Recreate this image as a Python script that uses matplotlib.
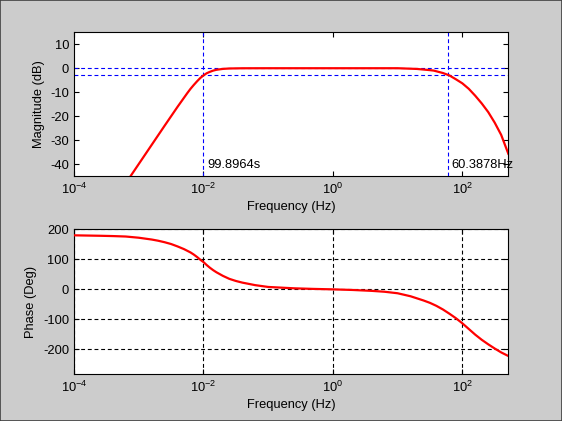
import numpy as np
import matplotlib
matplotlib.use("Agg")
import matplotlib.pyplot as plt
from matplotlib.ticker import FixedLocator, FixedFormatter, NullLocator

# values (log10 of frequency in Hz)
mag_exp = [-3.3, -3.0, -2.8, -2.6, -2.4, -2.3, -2.25, -2.2, -2.15, -2.1, -2.05,
           -2.0, -1.95, -1.9, -1.85, -1.8, -1.7, -1.6, -1.4, -1.0, 0.0, 1.0,
           1.3, 1.5, 1.56, 1.7, 1.8, 1.9, 2.0, 2.1, 2.2, 2.3, 2.4, 2.5, 2.6, 2.711]
mag_db = [-52.0, -40.0, -32.0, -24.0, -16.1, -12.3, -10.4, -8.6, -7.0, -5.5, -4.1,
          -3.0, -2.1, -1.5, -1.0, -0.65, -0.28, -0.11, -0.02, 0.0, 0.0, 0.0,
          -0.3, -0.8, -1.0, -2.0, -3.0, -4.6, -6.3, -8.6, -11.5, -14.7, -18.3,
          -22.7, -27.8, -35.7]

phase_exp = [-4.0, -3.6, -3.4, -3.2, -3.0, -2.8, -2.7, -2.6, -2.5, -2.4, -2.3,
             -2.2, -2.15, -2.1, -2.05, -2.0, -1.95, -1.9, -1.85, -1.8, -1.7,
             -1.6, -1.5, -1.4, -1.2, -1.0, -0.6, -0.3, 0.0, 0.3, 0.6, 0.8, 1.0,
             1.2, 1.4, 1.5, 1.6, 1.7, 1.8, 1.9, 2.0, 2.1, 2.2, 2.3, 2.4, 2.5,
             2.6, 2.711]
phase_deg = [180, 178.5, 177.5, 176, 172, 166, 162, 157, 151, 143, 134,
             123, 116, 108, 99, 91, 81, 72, 64, 57, 45,
             35, 28, 22.5, 14, 8, 3.5, 1.5, 0, -2, -5, -8, -13,
             -23, -37, -45, -55, -67, -81, -96, -113, -132, -151, -168, -183, -197,
             -210, -222]

low_cut = 0.01        # Hz, marked as 99.8964s
high_cut = 60.3878    # Hz
xticks = [1e-4, 1e-2, 1e0, 1e2]
xtick_labels = ["$10^{-4}$", "$10^{-2}$", "$10^{0}$", "$10^{2}$"]

plt.rcParams["font.family"] = ["Liberation Sans", "DejaVu Sans"]
plt.rcParams["mathtext.fontset"] = "custom"
plt.rcParams["mathtext.rm"] = "Liberation Sans"
plt.rcParams["mathtext.it"] = "Liberation Sans"
plt.rcParams["axes.unicode_minus"] = False
plt.rcParams["font.size"] = 9.3

dash = (0, (3.5, 2.5))

fig = plt.figure(figsize=(5.62, 4.21), dpi=100, facecolor="#cccccc")
ax1 = fig.add_axes([0.1317, 0.5819, 0.7728, 0.3414])
ax2 = fig.add_axes([0.1317, 0.1109, 0.7728, 0.3444])

ax1.semilogx(np.power(10.0, mag_exp), mag_db, color="red", lw=1.6, zorder=3)
ax1.axhline(0, color="blue", ls=dash, lw=0.8)
ax1.axhline(-3, color="blue", ls=dash, lw=0.8)
ax1.axvline(low_cut, color="blue", ls=dash, lw=0.8)
ax1.axvline(high_cut, color="blue", ls=dash, lw=0.8)
ax1.set_ylim(-45, 15)
ax1.set_yticks([-40, -30, -20, -10, 0, 10])
ax1.set_ylabel("Magnitude (dB)")
ax1.annotate("99.8964s", xy=(low_cut, -40.5), xytext=(2.5, 0),
             textcoords="offset points", va="center", ha="left")
ax1.annotate("60.3878Hz", xy=(high_cut, -40.5), xytext=(2.5, 0),
             textcoords="offset points", va="center", ha="left",
             annotation_clip=False)

ax2.semilogx(np.power(10.0, phase_exp), phase_deg, color="red", lw=1.6, zorder=3)
ax2.set_ylim(-283, 200)
ax2.set_yticks([-200, -100, 0, 100, 200])
ax2.grid(True, color="black", ls=dash, lw=0.8)
ax2.set_ylabel("Phase (Deg)")

for ax in (ax1, ax2):
    ax.set_xlim(1e-4, 514)
    ax.xaxis.set_major_locator(FixedLocator(xticks))
    ax.xaxis.set_major_formatter(FixedFormatter(xtick_labels))
    ax.xaxis.set_minor_locator(NullLocator())
    ax.set_xlabel("Frequency (Hz)", labelpad=3)
    ax.tick_params(direction="in", top=True, right=True, length=3.5, width=0.8)
    ax.tick_params(axis="x", pad=4)
    for s in ax.spines.values():
        s.set_linewidth(0.8)

fig.add_artist(plt.Rectangle((0, 0), 1, 1, transform=fig.transFigure,
                             fill=False, edgecolor="#404040", lw=1.2))

fig.savefig("out.png", dpi=100, facecolor=fig.get_facecolor())
